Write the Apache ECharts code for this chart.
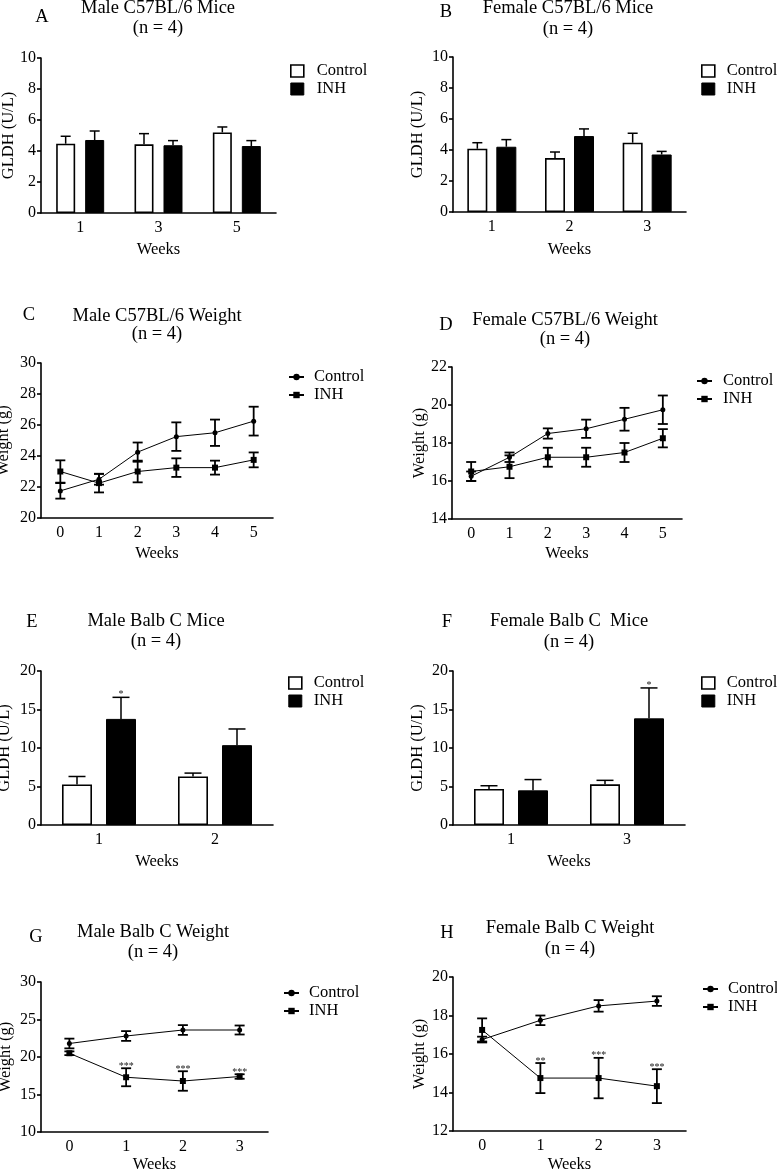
<!DOCTYPE html>
<html><head><meta charset="utf-8">
<script src="https://cdn.jsdelivr.net/npm/echarts@6.0.0/dist/echarts.min.js"></script>
<style>html,body{margin:0;padding:0;background:#fff}#c{width:777px;height:1170px}</style>
</head><body><div id="c"></div>
<script>
// ---------- DATA ----------
// A: Male C57BL/6 Mice GLDH
const weeksA = ['1', '3', '5'];
const ctrlA = [4.47, 4.43, 5.2];
const ctrlAErr = [0.48, 0.69, 0.35];
const inhA = [4.71, 4.37, 4.32];
const inhAErr = [0.58, 0.3, 0.35];
// B: Female C57BL/6 Mice GLDH
const weeksB = ['1', '2', '3'];
const ctrlB = [4.08, 3.48, 4.47];
const ctrlBErr = [0.39, 0.39, 0.61];
const inhB = [4.21, 4.9, 3.71];
const inhBErr = [0.46, 0.46, 0.2];
// C: Male C57BL/6 Weight
const weeksC = ['0', '1', '2', '3', '4', '5'];
const ctrlC = [21.75, 22.5, 24.25, 25.25, 25.5, 26.25];
const ctrlCErr = [0.5, 0.35, 0.62, 0.92, 0.85, 0.93];
const inhC = [23.0, 22.25, 23.0, 23.25, 23.25, 23.75];
const inhCErr = [0.72, 0.6, 0.7, 0.6, 0.45, 0.48];
// D: Female C57BL/6 Weight
const weeksD = ['0', '1', '2', '3', '4', '5'];
const ctrlD = [16.25, 17.25, 18.5, 18.75, 19.25, 19.75];
const ctrlDErr = [0.25, 0.25, 0.27, 0.48, 0.6, 0.75];
const inhD = [16.5, 16.75, 17.25, 17.25, 17.5, 18.25];
const inhDErr = [0.5, 0.6, 0.5, 0.5, 0.5, 0.48];
// E: Male Balb C Mice GLDH
const weeksE = ['1', '2'];
const ctrlE = [5.27, 6.3];
const ctrlEErr = [1.03, 0.44];
const inhE = [13.78, 10.37];
const inhEErr = [2.8, 2.1];
const starsE = ['*', ''];
// F: Female Balb C Mice GLDH
const weeksF = ['1', '3'];
const ctrlF = [4.68, 5.28];
const ctrlFErr = [0.42, 0.52];
const inhF = [4.5, 13.85];
const inhFErr = [1.4, 3.95];
const starsF = ['', '*'];
// G: Male Balb C Weight
const weeksG = ['0', '1', '2', '3'];
const ctrlG = [21.8, 22.8, 23.6, 23.6];
const ctrlGErr = [0.65, 0.65, 0.65, 0.6];
const inhG = [20.5, 17.3, 16.8, 17.4];
const inhGErr = [0.25, 1.2, 1.3, 0.3];
const starsG = ['', '***', '***', '***'];
// H: Female Balb C Weight
const weeksH = ['0', '1', '2', '3'];
const ctrlH = [16.75, 17.75, 18.5, 18.75];
const ctrlHErr = [0.15, 0.25, 0.3, 0.25];
const inhH = [17.25, 14.75, 14.75, 14.33];
const inhHErr = [0.6, 0.78, 1.05, 0.88];
const starsH = ['', '**', '***', '***'];

// ---------- LAYOUT / STYLE ----------
const FONT = 'Liberation Serif';
const panels = [
  {key:'A', kind:'bar', title:'Male C57BL/6 Mice', cats:weeksA, c:ctrlA, ce:ctrlAErr, h:inhA, he:inhAErr, stars:null,
   grid:{left:41, top:58, width:235, height:155}, y:{min:0, max:10, interval:2, name:'GLDH (U/L)', gap:24}, xGap:28,
   bw:19, bg:10, cap:10, t:{x:158, y1:8, y2:28, lx:42, ly:17}, lg:{left:290, top:62, pad:8}},
  {key:'B', kind:'bar', title:'Female C57BL/6 Mice', cats:weeksB, c:ctrlB, ce:ctrlBErr, h:inhB, he:inhBErr, stars:null,
   grid:{left:453, top:57, width:233, height:155}, y:{min:0, max:10, interval:2, name:'GLDH (U/L)', gap:27}, xGap:29,
   bw:20, bg:9, cap:10, t:{x:568, y1:8, y2:29, lx:446, ly:12}, lg:{left:701, top:62, pad:7}},
  {key:'C', kind:'line', title:'Male C57BL/6 Weight', cats:weeksC, c:ctrlC, ce:ctrlCErr, h:inhC, he:inhCErr, stars:null,
   grid:{left:41, top:363, width:232, height:155}, y:{min:20, max:30, interval:2, name:'Weight (g)', gap:29}, xGap:27,
   cap:10, t:{x:157, y1:316, y2:334, lx:29, ly:315}, lg:{left:288, top:368, pad:5}},
  {key:'D', kind:'line', title:'Female C57BL/6 Weight', cats:weeksD, c:ctrlD, ce:ctrlDErr, h:inhD, he:inhDErr, stars:null,
   grid:{left:452, top:367, width:230, height:152}, y:{min:14, max:22, interval:2, name:'Weight (g)', gap:24}, xGap:26,
   cap:10, t:{x:565, y1:320, y2:339, lx:446, ly:325}, lg:{left:696, top:372, pad:6}},
  {key:'E', kind:'bar', title:'Male Balb C Mice', cats:weeksE, c:ctrlE, ce:ctrlEErr, h:inhE, he:inhEErr, stars:starsE,
   grid:{left:41, top:671, width:232, height:154}, y:{min:0, max:20, interval:5, name:'GLDH (U/L)', gap:28}, xGap:28,
   bw:30, bg:14, cap:17, t:{x:156, y1:621, y2:641, lx:32, ly:622}, lg:{left:288, top:674, pad:7}},
  {key:'F', kind:'bar', title:'Female Balb C  Mice', cats:weeksF, c:ctrlF, ce:ctrlFErr, h:inhF, he:inhFErr, stars:starsF,
   grid:{left:453, top:671, width:232, height:154}, y:{min:0, max:20, interval:5, name:'GLDH (U/L)', gap:27}, xGap:28,
   bw:30, bg:14, cap:17, t:{x:569, y1:621, y2:642, lx:447, ly:622}, lg:{left:701, top:674, pad:7}},
  {key:'G', kind:'line', title:'Male Balb C Weight', cats:weeksG, c:ctrlG, ce:ctrlGErr, h:inhG, he:inhGErr, stars:starsG,
   grid:{left:41, top:982, width:227, height:150}, y:{min:10, max:30, interval:5, name:'Weight (g)', gap:27}, xGap:24,
   cap:10, t:{x:153, y1:932, y2:952, lx:36, ly:937}, lg:{left:283, top:984, pad:5}},
  {key:'H', kind:'line', title:'Female Balb C Weight', cats:weeksH, c:ctrlH, ce:ctrlHErr, h:inhH, he:inhHErr, stars:starsH,
   grid:{left:453, top:977, width:233, height:154}, y:{min:12, max:20, interval:2, name:'Weight (g)', gap:25}, xGap:25,
   cap:10, t:{x:570, y1:928, y2:949, lx:447, ly:933}, lg:{left:702, top:980, pad:5}}
];

const axisLineStyle = {color:'#000', width:1.6};
const option = {
  animation:false, backgroundColor:'#fff',
  grid:[], xAxis:[], yAxis:[], series:[], legend:[], graphic:[]
};

function errSeries(p, gi, vals, errs, off, isBar, stars) {
  return {
    type:'custom', name:'err#' + p.key + off, xAxisIndex:gi, yAxisIndex:gi, z:5,
    data: vals.map((v, i) => [i, v, errs[i]]),
    renderItem: function (params, api) {
      const i = api.value(0), v = api.value(1), e = api.value(2);
      const mid = api.coord([i, v]);
      const top = api.coord([i, v + e]);
      const bot = api.coord([i, v - e]);
      const x = mid[0] + off;
      const lw = isBar ? 1.5 : 1.8;
      const st = {stroke:'#000', lineWidth:lw};
      const ch = [];
      const y0 = isBar ? mid[1] : bot[1];
      ch.push({type:'line', shape:{x1:x, y1:y0, x2:x, y2:top[1]}, style:st});
      ch.push({type:'line', shape:{x1:x - p.cap / 2, y1:top[1], x2:x + p.cap / 2, y2:top[1]}, style:st});
      if (!isBar) ch.push({type:'line', shape:{x1:x - p.cap / 2, y1:bot[1], x2:x + p.cap / 2, y2:bot[1]}, style:st});
      const s = stars && stars[params.dataIndex];
      if (s) ch.push({type:'text', x:x, y:top[1] + (isBar ? 2 : 3), style:{text:s, fill:'#222', font:'10px "' + FONT + '"', align:'center', verticalAlign:'bottom'}});
      return {type:'group', children:ch};
    }
  };
}

panels.forEach((p, gi) => {
  option.grid.push(Object.assign({outerBoundsMode:'none', containLabel:false}, p.grid));
  option.xAxis.push({
    gridIndex:gi, type:'category', data:p.cats, boundaryGap:true,
    axisLine:{lineStyle:axisLineStyle}, axisTick:{alignWithLabel:true, length:4, lineStyle:axisLineStyle},
    axisLabel:{color:'#000', fontSize:16, fontFamily:FONT, margin:7},
    splitLine:{show:false},
    name:'Weeks', nameLocation:'middle', nameGap:p.xGap,
    nameTextStyle:{color:'#000', fontSize:16.5, fontFamily:FONT}
  });
  option.yAxis.push({
    gridIndex:gi, type:'value', min:p.y.min, max:p.y.max, interval:p.y.interval,
    axisLine:{show:true, lineStyle:axisLineStyle}, axisTick:{show:true, length:4, lineStyle:axisLineStyle},
    axisLabel:{color:'#000', fontSize:16, fontFamily:FONT, margin:5},
    splitLine:{show:false},
    name:p.y.name, nameLocation:'middle', nameGap:p.y.gap, nameMoveOverlap:false,
    nameTextStyle:{color:'#000', fontSize:16.5, fontFamily:FONT}
  });
  const cn = 'Control#' + p.key, hn = 'INH#' + p.key;
  const legText = {color:'#000', fontSize:16.5, fontFamily:FONT, lineHeight:18, padding:[0, 0, 0, p.lg.pad]};
  if (p.kind === 'bar') {
    const gapPct = (p.bg / p.bw * 100).toFixed(1) + '%';
    option.series.push({type:'bar', name:cn, xAxisIndex:gi, yAxisIndex:gi, data:p.c, barWidth:p.bw, barGap:gapPct,
      itemStyle:{color:'#fff', borderColor:'#000', borderWidth:1.6}});
    option.series.push({type:'bar', name:hn, xAxisIndex:gi, yAxisIndex:gi, data:p.h, barWidth:p.bw, barGap:gapPct,
      itemStyle:{color:'#000', borderColor:'#000', borderWidth:1}});
    const off = (p.bw + p.bg) / 2;
    option.series.push(errSeries(p, gi, p.c, p.ce, -off, true, null));
    option.series.push(errSeries(p, gi, p.h, p.he, off, true, p.stars));
    option.legend.push({
      orient:'vertical', left:p.lg.left, top:p.lg.top, padding:0, itemGap:0, itemWidth:13, itemHeight:12,
      selectedMode:false, formatter:n => n.split('#')[0], textStyle:legText,
      data:[
        {name:cn, icon:'rect', itemStyle:{color:'#fff', borderColor:'#000', borderWidth:1.6}},
        {name:hn, icon:'rect', itemStyle:{color:'#000', borderColor:'#000', borderWidth:1}}
      ]
    });
  } else {
    option.series.push({type:'line', name:cn, xAxisIndex:gi, yAxisIndex:gi, data:p.c, symbol:'circle', symbolSize:5, showSymbol:true,
      lineStyle:{color:'#000', width:1}, itemStyle:{color:'#000'}, z:3});
    option.series.push({type:'line', name:hn, xAxisIndex:gi, yAxisIndex:gi, data:p.h, symbol:'rect', symbolSize:6, showSymbol:true,
      lineStyle:{color:'#000', width:1}, itemStyle:{color:'#000'}, z:3});
    option.series.push(errSeries(p, gi, p.c, p.ce, 0, false, null));
    option.series.push(errSeries(p, gi, p.h, p.he, 0, false, p.stars));
    option.legend.push({
      orient:'vertical', left:p.lg.left, top:p.lg.top, padding:0, itemGap:0, itemWidth:15, itemHeight:8,
      selectedMode:false, formatter:n => n.split('#')[0], textStyle:legText,
      data:[{name:cn}, {name:hn}]
    });
  }
  const tf = '18.5px "' + FONT + '"';
  option.graphic.push({type:'text', x:p.t.x, y:p.t.y1, style:{text:p.title, font:tf, fill:'#000', align:'center', verticalAlign:'middle'}});
  option.graphic.push({type:'text', x:p.t.x, y:p.t.y2, style:{text:'(n = 4)', font:tf, fill:'#000', align:'center', verticalAlign:'middle'}});
  option.graphic.push({type:'text', x:p.t.lx, y:p.t.ly, style:{text:p.key, font:tf, fill:'#000', align:'center', verticalAlign:'middle'}});
});

const chart = echarts.init(document.getElementById('c'), null, {renderer:'canvas'});
chart.setOption(option);
</script>
</body></html>
